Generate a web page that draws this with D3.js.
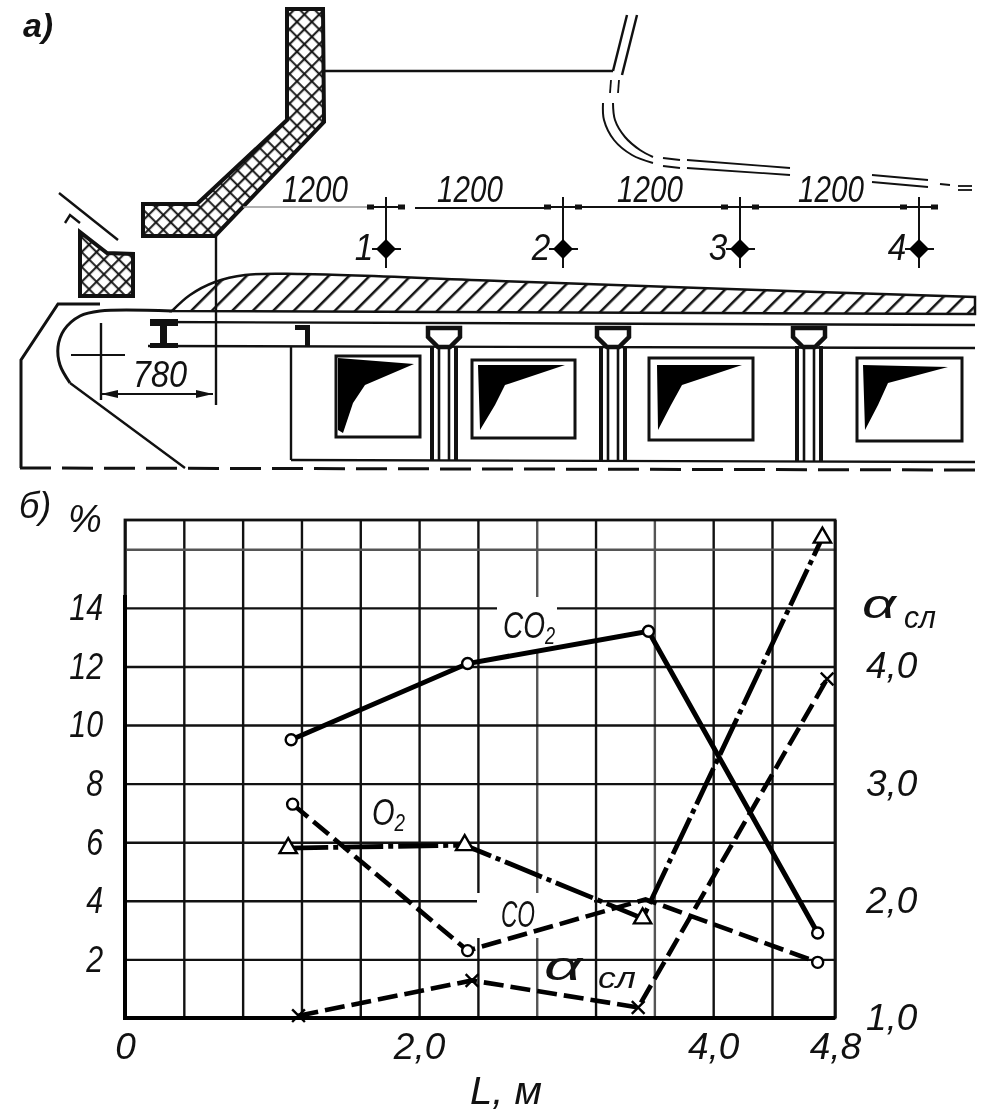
<!DOCTYPE html>
<html>
<head>
<meta charset="utf-8">
<script src="https://cdn.jsdelivr.net/npm/d3@7"></script>
<style>
  html, body { margin: 0; padding: 0; background: #fff; }
  svg { display: block; filter: blur(0.4px); }
  text { font-family: "Liberation Sans", sans-serif; font-style: italic; fill: #111; }
</style>
</head>
<body>
<svg id="chart" width="1000" height="1117"></svg>
<script>
// chart values
const xGridTicks = [0, 0.4, 0.8, 1.2, 1.6, 2.0, 2.4, 2.8, 3.2, 3.6, 4.0, 4.4, 4.8];
const xGreyTicks = [2.8, 3.6];
const xLabelTicks = [0, 2.0, 4.0, 4.8];
const yGridTicks = [0, 2, 4, 6, 8, 10, 12, 14, 16];
const yLabelTicks = [2, 4, 6, 8, 10, 12, 14];
const alphaTicks = [1, 2, 3, 4];

const co2X = [1.13, 2.33, 3.56, 4.69];
const co2Y = [9.5, 12.1, 13.2, 2.9];
const triX = [1.11, 2.31, 3.52, 4.72];
const triY = [5.8, 5.9, 3.4, 16.4];
const o2coX = [1.14, 2.33, 3.54, 4.69];
const o2coY = [7.3, 2.3, 4.05, 1.9];
const alphaX = [1.18, 2.36, 3.49, 4.75];
const alphaY = [1.02, 1.32, 1.09, 3.89];

const comma = d => d3.format('.1f')(d).replace('.', ',');

// top drawing: outlines of the furnace section, in page pixels
const wallOutline = [[287, 9], [323, 9], [324, 122], [215, 236], [143, 236], [143, 204], [197, 204], [287, 120]];
const noseOutline = [[80, 232], [107, 253], [133, 254], [133, 296], [80, 296]];
const layerCurve = [[172, 311], [190, 295], [215, 282], [245, 275], [300, 274], [500, 281], [700, 288], [975, 297]];
const casing = [[100, 304], [58, 304], [21, 360], [21, 468]];
const waterWall = [[172, 311], [100, 311], [80, 316], [64, 330], [58, 347], [60, 365], [70, 383]];
const plainLines = [
  [[59, 193], [118, 240]],
  [[65, 223], [70, 215], [80, 223]],
  [[324, 71], [613, 71]],
  [[150, 322], [975, 325]],
  [[148, 346], [975, 348]],
  [[291, 347], [291, 460]],
  [[291, 460], [975, 462]],
  [[216, 236], [216, 405]],
  [[101, 323], [101, 400]],
  [[70, 383], [185, 468]],
  [[627, 15], [613, 71]],
  [[637, 15], [622, 75]]
];
const flueCurves = [
  [[603, 103], [604, 120], [614, 140], [632, 155], [653, 163]],
  [[613, 103], [615, 120], [625, 137], [640, 150], [653, 157]]
];
const flueLines = [
  [[611, 80], [610, 93]],
  [[619, 80], [618, 93]],
  [[663, 158], [680, 160]],
  [[663, 166], [680, 168]],
  [[687, 160], [790, 168]],
  [[687, 168], [790, 175]],
  [[872, 175], [928, 180]],
  [[872, 182], [928, 187]],
  [[940, 184], [950, 185]],
  [[958, 186], [972, 186]],
  [[958, 190], [972, 190]]
];
const pillarX = [444, 613, 809];
const windowRects = [[336, 356, 420, 437], [472, 360, 575, 438], [649, 358, 753, 440], [857, 358, 962, 441]];
const windowShapes = [
  [[338, 358], [414, 364], [365, 385], [353, 403], [343, 433], [338, 430]],
  [[478, 365], [565, 365], [505, 385], [495, 405], [480, 430]],
  [[657, 365], [742, 365], [682, 385], [671, 405], [658, 430]],
  [[863, 365], [948, 367], [888, 383], [878, 405], [865, 430]]
];
const probeX = [386, 563, 740, 919];
const probeNames = ['1', '2', '3', '4'];
const spanLabelX = [315, 470, 650, 831];

const svg = d3.select('#chart');
const defs = svg.append('defs');
const line = d3.line();
const smooth = d3.line().curve(d3.curveCatmullRom);

// cross hatch for brickwork, diagonal hatch for the fuel layer
const cross = defs.append('pattern').attr('id', 'cross')
  .attr('width', 10.5).attr('height', 10.5)
  .attr('patternUnits', 'userSpaceOnUse')
  .attr('patternTransform', 'rotate(45)');
cross.append('path').attr('d', 'M0,5H10.5M5,0V10.5').attr('stroke', '#111').attr('stroke-width', 2);
const slant = defs.append('pattern').attr('id', 'slant')
  .attr('width', 14.5).attr('height', 14.5)
  .attr('patternUnits', 'userSpaceOnUse')
  .attr('patternTransform', 'rotate(45)');
slant.append('path').attr('d', 'M7,0V14.5').attr('stroke', '#111').attr('stroke-width', 2.5);

const section = svg.append('g').attr('class', 'section')
  .attr('fill', 'none').attr('stroke', '#111').attr('stroke-width', 2);

section.append('path').attr('d', line(wallOutline) + 'Z').attr('fill', 'url(#cross)').attr('stroke-width', 4);
section.append('path').attr('d', line(noseOutline) + 'Z').attr('fill', 'url(#cross)').attr('stroke-width', 4);
section.append('path').attr('d', smooth(layerCurve) + 'L975,314L172,311Z').attr('fill', 'url(#slant)').attr('stroke-width', 2.5);
section.append('path').attr('d', line(casing)).attr('stroke-width', 3);
section.append('path').attr('d', smooth(waterWall)).attr('stroke-width', 3);
section.selectAll('.plain').data(plainLines).join('path').attr('class', 'plain').attr('d', d => line(d)).attr('stroke-width', 2.4);
section.selectAll('.flue').data(flueLines).join('path').attr('class', 'flue').attr('d', d => line(d)).attr('stroke-width', 1.8);
section.selectAll('.flue-curve').data(flueCurves).join('path').attr('class', 'flue-curve').attr('d', d => smooth(d)).attr('stroke-width', 2);
section.append('path').attr('d', 'M20,468L975,470').attr('stroke-width', 3).attr('stroke-dasharray', '31,11');

// I beam and the short post next to it
section.append('path').attr('d', 'M150,319H178V326H167V343H178V348H150V343H160V326H150Z').attr('fill', '#111').attr('stroke', 'none');
section.append('path').attr('d', 'M295,325H310V347H305V330H295Z').attr('fill', '#111').attr('stroke', 'none');

// pillars with a cap
const pillars = section.selectAll('.pillar').data(pillarX).join('g').attr('class', 'pillar')
  .attr('transform', d => `translate(${d},0)`);
pillars.append('path').attr('d', 'M-16,328H16V337L6,347H-6L-16,337Z').attr('stroke-width', 4.5).attr('fill', '#fff');
pillars.selectAll('line').data([-12, -5, 5, 12]).join('line')
  .attr('x1', d => d).attr('x2', d => d).attr('y1', 346).attr('y2', 461)
  .attr('stroke-width', d => Math.abs(d) === 12 ? 4 : 2.6);

section.selectAll('.window').data(windowRects).join('rect').attr('class', 'window')
  .attr('x', d => d[0]).attr('y', d => d[1])
  .attr('width', d => d[2] - d[0]).attr('height', d => d[3] - d[1])
  .attr('stroke-width', 3);
section.selectAll('.shape').data(windowShapes).join('path').attr('class', 'shape')
  .attr('d', d => line(d) + 'Z').attr('fill', '#000').attr('stroke', 'none');

// dimension line over the probes
section.append('path').attr('d', 'M243,207H367').attr('stroke', '#999').attr('stroke-width', 1.4);
section.append('path').attr('d', 'M415,208H545M580,207H725M755,207H900').attr('stroke-width', 1.8);
section.selectAll('.probe').data(probeX).join('path').attr('class', 'probe')
  .attr('d', d => `M${d},197V268M${d - 18},207H${d + 18}M${d - 14},249H${d + 15}`)
  .attr('stroke-width', 2);
section.selectAll('.stub').data(probeX).join('path').attr('class', 'stub')
  .attr('d', d => `M${d - 19},207h7M${d + 12},207h7`).attr('stroke-width', 5);
section.selectAll('.diamond').data(probeX).join('path').attr('class', 'diamond')
  .attr('d', d => `M${d},239L${d + 10},249L${d},259L${d - 10},249Z`)
  .attr('fill', '#000').attr('stroke', 'none');

// 780 dimension
section.append('path').attr('d', 'M101,394H213M71,355H125').attr('stroke-width', 1.8);
section.append('path').attr('d', 'M101,394L118,390V398ZM213,394L196,390V398Z').attr('fill', '#111').attr('stroke', 'none');

// squeeze a text to a narrower width, the drawing uses narrow lettering
function squeeze(sel, factor) {
  sel.each(function() {
    d3.select(this).attr('textLength', this.getComputedTextLength() * factor)
      .attr('lengthAdjust', 'spacingAndGlyphs');
  });
}

const labels = svg.append('g').attr('class', 'section-labels').attr('text-anchor', 'middle').attr('font-size', 37);
labels.selectAll('.span').data(spanLabelX).join('text').attr('class', 'span')
  .attr('x', d => d).attr('y', 202).text('1200').call(squeeze, 0.8);
labels.selectAll('.probe-name').data(probeX).join('text').attr('class', 'probe-name')
  .attr('x', d => d - 22).attr('y', 260).text((d, i) => probeNames[i]).call(squeeze, 0.9);
labels.append('text').attr('x', 160).attr('y', 387).text('780').call(squeeze, 0.88);
labels.append('text').attr('x', 38).attr('y', 37).attr('font-size', 34).attr('font-weight', 'bold').text('а)');
labels.append('text').attr('x', 35).attr('y', 518).attr('font-size', 36).text('б)');

// graph
const margin = {left: 125, right: 835, top: 520, bottom: 1018};
// the last cell of the printed grid is a little wider than the others
const x = d3.scaleLinear().domain([0, 4.4, 4.8]).range([margin.left, 772, margin.right]);
const y = d3.scaleLinear().domain([0, 17]).range([margin.bottom, margin.top]);
const yAlpha = d3.scaleLinear().domain([1, 5.245]).range([margin.bottom, margin.top]);

const plot = svg.append('g').attr('class', 'plot');

plot.append('g').attr('class', 'x-grid')
  .attr('transform', `translate(0,${margin.bottom})`)
  .call(d3.axisBottom(x).tickValues(xGridTicks).tickSize(margin.top - margin.bottom).tickFormat(''));
plot.append('g').attr('class', 'y-grid')
  .attr('transform', `translate(${margin.left},0)`)
  .call(d3.axisLeft(y).tickValues(yGridTicks).tickSize(margin.left - margin.right).tickFormat(''));
plot.selectAll('.x-grid line, .y-grid line').attr('stroke', '#111').attr('stroke-width', 2.4);
plot.selectAll('.x-grid .domain, .y-grid .domain').remove();
plot.selectAll('.x-grid .tick').filter(d => xGreyTicks.includes(d)).select('line').attr('stroke', '#555');
plot.selectAll('.y-grid .tick').filter(d => d === 16).select('line').attr('stroke', '#555');

plot.append('rect').attr('x', margin.left).attr('y', margin.top)
  .attr('width', margin.right - margin.left).attr('height', margin.bottom - margin.top)
  .attr('fill', 'none').attr('stroke', '#111').attr('stroke-width', 2.8);
plot.append('path')
  .attr('d', `M${margin.left},${margin.top + 75}V${margin.bottom}H${margin.right}`)
  .attr('fill', 'none').attr('stroke', '#000').attr('stroke-width', 4);

function tickText(g, size) {
  g.select('.domain').remove();
  g.selectAll('.tick line').remove();
  g.selectAll('text').attr('font-size', size).attr('fill', '#111')
    .attr('font-family', '"Liberation Sans", sans-serif');
}

plot.append('g').attr('transform', `translate(${margin.left},0)`)
  .call(d3.axisLeft(y).tickValues(yLabelTicks).tickSize(0).tickPadding(22).tickFormat(d => d))
  .call(tickText, 37)
  .selectAll('text').call(squeeze, 0.82);
plot.append('g').attr('transform', `translate(${margin.right},0)`)
  .call(d3.axisRight(yAlpha).tickValues(alphaTicks).tickSize(0).tickPadding(31).tickFormat(comma))
  .call(tickText, 37);
plot.append('g').attr('transform', `translate(0,${margin.bottom})`)
  .call(d3.axisBottom(x).tickValues(xLabelTicks).tickSize(0).tickPadding(15).tickFormat(d => d === 0 ? '0' : comma(d)))
  .call(tickText, 37);

// series labels sit on white patches that break the grid
function noteBox(px, py, w, h) {
  plot.append('rect').attr('x', px).attr('y', py).attr('width', w).attr('height', h).attr('fill', '#fff');
}
noteBox(497, 597, 60, 56);
noteBox(477, 893, 117, 45);

const toPoints = (xs, ys, yScale) => xs.map((d, i) => [x(d), yScale(ys[i])]);
const seriesLine = d3.line();

function drawSeries(points, width, dash) {
  plot.append('path').attr('d', seriesLine(points)).attr('fill', 'none')
    .attr('stroke', '#000').attr('stroke-width', width)
    .attr('stroke-dasharray', dash);
}

drawSeries(toPoints(o2coX, o2coY, y), 4.6, '20,7');
drawSeries(toPoints(alphaX, alphaY, yAlpha), 4.6, '20,7');
drawSeries(toPoints(triX, triY, y), 4.8, '40,5,5,5');
drawSeries(toPoints(co2X, co2Y, y), 5, null);

const circles = [...toPoints(co2X, co2Y, y), ...toPoints(o2coX.filter((d, i) => i !== 2), o2coY.filter((d, i) => i !== 2), y)];
plot.selectAll('.dot').data(circles).join('circle').attr('class', 'dot')
  .attr('cx', d => d[0]).attr('cy', d => d[1]).attr('r', 5.5)
  .attr('fill', '#fff').attr('stroke', '#000').attr('stroke-width', 2.4);
plot.selectAll('.tri').data(toPoints(triX, triY, y)).join('path').attr('class', 'tri')
  .attr('transform', d => `translate(${d[0]},${d[1]})`)
  .attr('d', d3.symbol(d3.symbolTriangle, 130))
  .attr('fill', '#fff').attr('stroke', '#000').attr('stroke-width', 2.4);
plot.selectAll('.cross').data(toPoints(alphaX, alphaY, yAlpha)).join('path').attr('class', 'cross')
  .attr('transform', d => `translate(${d[0]},${d[1]}) rotate(45)`)
  .attr('d', 'M-9,0H9M0,-9V9')
  .attr('fill', 'none').attr('stroke', '#000').attr('stroke-width', 2.4);

const notes = svg.append('g').attr('class', 'notes');

function note(px, py, txt, size, width) {
  const t = notes.append('text').attr('x', px).attr('y', py).attr('font-size', size).text(txt);
  if (width) t.attr('textLength', width).attr('lengthAdjust', 'spacingAndGlyphs');
}
// chemical formula with a lowered index, kept as one text
function formula(px, py, main, sub, size, width) {
  const t = notes.append('text').attr('x', px).attr('y', py).attr('font-size', size)
    .attr('textLength', width).attr('lengthAdjust', 'spacingAndGlyphs');
  t.append('tspan').text(main);
  t.append('tspan').attr('dy', 6).attr('font-size', size * 0.65).text(sub);
}
formula(503, 638, 'CO', '2', 36, 52);
formula(372, 825, 'O', '2', 36, 33);
note(501, 927, 'CO', 36, 34);
note(544, 980, 'α', 40, 38);
note(598, 988, 'сл', 30, 38);
note(862, 618, 'α', 40, 34);
note(904, 628, 'сл', 32, 32);
note(68, 532, '%', 38);
note(470, 1104, 'L, м', 38, 72);
</script>
</body>
</html>
